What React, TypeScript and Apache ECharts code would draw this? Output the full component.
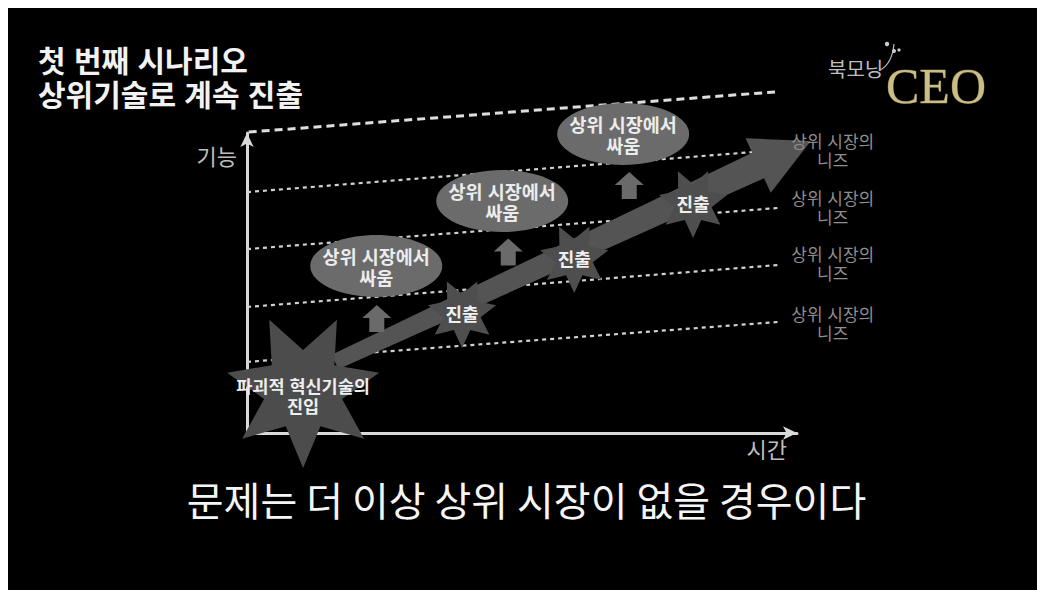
import React, { useEffect, useRef } from 'react';
import * as echarts from 'echarts';

const FONT = '"Noto Sans CJK KR", "Noto Sans", sans-serif';
// compact line box (Latin primary font), Hangul glyphs fall back to Noto Sans CJK KR
const FONT_TIGHT = '"Liberation Sans", "Noto Sans CJK KR", sans-serif';

// ---- texts ----
const titleLine1 = '첫 번째 시나리오';
const titleLine2 = '상위기술로 계속 진출';
const captionText = '문제는 더 이상 상위 시장이 없을 경우이다';
const xAxisName = '시간';
const yAxisName = '기능';
const logoKorean = '북모닝';
const logoLatin = 'CEO';

// ---- diagram values, in (시간, 기능) units: x 0..100, y 0..100 ----
// dashed "market level" lines: [x1, y1, x2, y2]
const levelLines = [
  [0.3, 100.3, 96, 113.7],
  [0, 80.3, 96.4, 94.3],
  [0, 61.3, 96.5, 75],
  [0, 42, 96.5, 56],
  [0, 23.7, 96.5, 37],
];
const needLine1 = '상위 시장의';
const needLine2 = '니즈';
const needPoints = [
  [106.5, 93.6],
  [106.5, 74.6],
  [106.5, 55.9],
  [106.5, 36.0],
];
const battleLabel = '상위 시장에서\n싸움';
const battlePoints = [
  [23.5, 55.7],
  [46.4, 77.3],
  [68.4, 99.7],
];
const upArrowPoints = [
  [23.6, 38.2],
  [47.5, 60.3],
  [69.5, 82.5],
];
const entryLabel = '진출';
const entryPoints = [
  [39.1, 40.0],
  [59.5, 58.3],
  [81.1, 76.7],
];
const originLabel = '파괴적 혁신기술의\n진입';
const originPoints = [[10.2, 14.3]];
const trendArrow = [[16, 23.7, 102.5, 97.3]];

function starPoints(cx: number, cy: number, R: number, r: number, n: number) {
  const pts: number[][] = [];
  const rot = Math.PI / 2;
  for (let i = 0; i < 2 * n; i++) {
    const a = rot + (i * Math.PI) / n;
    const rad = i % 2 === 0 ? R : r;
    pts.push([cx + rad * Math.cos(a), cy + rad * Math.sin(a)]);
  }
  return pts;
}

export default function App() {
  const ref = useRef<HTMLDivElement>(null);

  useEffect(() => {
    if (!ref.current) return;
    const chart = echarts.init(ref.current, undefined, { renderer: 'svg' });

    const lineSeries = levelLines.map((l, i) => ({
      type: 'line',
      data: [
        [l[0], l[1]],
        [l[2], l[3]],
      ],
      symbol: 'none',
      clip: false,
      silent: true,
      z: 1,
      lineStyle:
        i === 0
          ? { color: '#dedede', width: 3, type: [8, 5] }
          : { color: '#d2d2d2', width: 2.2, type: [4, 4] },
    }));

    const titleStyle = {
      fill: '#f2f2f2',
      fontSize: 30,
      fontWeight: 'bold',
      fontFamily: FONT_TIGHT,
      verticalAlign: 'middle',
    };

    const option: any = {
      animation: false,
      backgroundColor: '#000',
      grid: { left: 239, top: 125, right: 248, bottom: 157 },
      xAxis: {
        type: 'value',
        min: 0,
        max: 100,
        name: xAxisName,
        nameLocation: 'end',
        nameGap: -10,
        nameTextStyle: {
          color: '#bdbdbd',
          fontSize: 22,
          fontFamily: FONT,
          align: 'right',
          verticalAlign: 'top',
          padding: [4, 0, 0, 0],
        },
        axisLine: {
          show: true,
          symbol: ['none', 'arrow'],
          symbolSize: [10, 14],
          lineStyle: { color: '#d9d9d9', width: 3 },
        },
        axisTick: { show: false },
        axisLabel: { show: false },
        splitLine: { show: false },
      },
      yAxis: {
        type: 'value',
        min: 0,
        max: 100,
        name: yAxisName,
        nameLocation: 'end',
        nameGap: -22,
        nameTextStyle: {
          color: '#bdbdbd',
          fontSize: 22,
          fontFamily: FONT,
          align: 'right',
          verticalAlign: 'middle',
          padding: [0, 10, 0, 0],
        },
        axisLine: {
          show: true,
          symbol: ['none', 'arrow'],
          symbolSize: [10, 14],
          lineStyle: { color: '#d9d9d9', width: 3 },
        },
        axisTick: { show: false },
        axisLabel: { show: false },
        splitLine: { show: false },
      },
      series: [
        ...lineSeries,
        {
          type: 'custom',
          z: 2,
          silent: true,
          clip: false,
          data: trendArrow,
          renderItem: (_p: any, api: any) => {
            const s = api.coord([api.value(0), api.value(1)]);
            const t = api.coord([api.value(2), api.value(3)]);
            const dx = t[0] - s[0];
            const dy = t[1] - s[1];
            const len = Math.sqrt(dx * dx + dy * dy);
            const u = [dx / len, dy / len];
            const p = [-u[1], u[0]];
            const headLen = 58;
            const w0 = 8;
            const w1 = 14;
            const hw = 30;
            const b = [t[0] - headLen * u[0], t[1] - headLen * u[1]];
            const pts = [
              [s[0] + w0 * p[0], s[1] + w0 * p[1]],
              [b[0] + w1 * p[0], b[1] + w1 * p[1]],
              [b[0] + hw * p[0], b[1] + hw * p[1]],
              t,
              [b[0] - hw * p[0], b[1] - hw * p[1]],
              [b[0] - w1 * p[0], b[1] - w1 * p[1]],
              [s[0] - w0 * p[0], s[1] - w0 * p[1]],
            ];
            return { type: 'polygon', shape: { points: pts }, style: { fill: '#545454' } };
          },
        },
        {
          type: 'custom',
          z: 3,
          silent: true,
          clip: false,
          data: originPoints,
          renderItem: (_p: any, api: any) => {
            const c = api.coord([api.value(0), api.value(1)]);
            return {
              type: 'group',
              children: [
                { type: 'polygon', shape: { points: starPoints(c[0], c[1], 78, 40, 7) }, style: { fill: '#4c4c4c' } },
                {
                  type: 'text',
                  style: {
                    text: originLabel,
                    x: c[0],
                    y: c[1] + 7,
                    align: 'center',
                    verticalAlign: 'middle',
                    fill: '#eeeeee',
                    fontSize: 17.5,
                    lineHeight: 20,
                    fontWeight: 'bold',
                    fontFamily: FONT_TIGHT,
                  },
                },
              ],
            };
          },
        },
        {
          type: 'custom',
          z: 3,
          silent: true,
          clip: false,
          data: entryPoints,
          renderItem: (_p: any, api: any) => {
            const c = api.coord([api.value(0), api.value(1)]);
            return {
              type: 'group',
              children: [
                { type: 'polygon', shape: { points: starPoints(c[0], c[1], 35, 19, 7) }, style: { fill: '#4e4e4e' } },
                {
                  type: 'text',
                  style: {
                    text: entryLabel,
                    x: c[0],
                    y: c[1],
                    align: 'center',
                    verticalAlign: 'middle',
                    fill: '#f0f0f0',
                    fontSize: 18,
                    fontWeight: 'bold',
                    fontFamily: FONT,
                  },
                },
              ],
            };
          },
        },
        {
          type: 'custom',
          z: 3,
          silent: true,
          clip: false,
          data: battlePoints,
          renderItem: (_p: any, api: any) => {
            const c = api.coord([api.value(0), api.value(1)]);
            return {
              type: 'group',
              children: [
                { type: 'ellipse', shape: { cx: c[0], cy: c[1], rx: 66, ry: 31 }, style: { fill: '#6b6b6b' } },
                {
                  type: 'text',
                  style: {
                    text: battleLabel,
                    x: c[0],
                    y: c[1] + 2,
                    align: 'center',
                    verticalAlign: 'middle',
                    fill: '#ececec',
                    fontSize: 18.5,
                    lineHeight: 21,
                    fontWeight: 'bold',
                    fontFamily: FONT_TIGHT,
                  },
                },
              ],
            };
          },
        },
        {
          type: 'custom',
          z: 3,
          silent: true,
          clip: false,
          data: upArrowPoints,
          renderItem: (_p: any, api: any) => {
            const c = api.coord([api.value(0), api.value(1)]);
            const x = c[0];
            const y = c[1];
            const pts = [
              [x, y - 13.5],
              [x + 14.5, y - 0.5],
              [x + 7.5, y - 0.5],
              [x + 7.5, y + 13.5],
              [x - 7.5, y + 13.5],
              [x - 7.5, y - 0.5],
              [x - 14.5, y - 0.5],
            ];
            return { type: 'polygon', shape: { points: pts }, style: { fill: '#6a6a6a' } };
          },
        },
        {
          type: 'custom',
          z: 3,
          silent: true,
          clip: false,
          data: needPoints,
          renderItem: (_p: any, api: any) => {
            const c = api.coord([api.value(0), api.value(1)]);
            const st = {
              align: 'center',
              verticalAlign: 'middle',
              fill: '#8e8e8e',
              fontSize: 17,
              fontFamily: FONT_TIGHT,
            };
            return {
              type: 'group',
              children: [
                { type: 'text', style: { ...st, text: needLine1, x: c[0], y: c[1] - 9.5 } },
                { type: 'text', style: { ...st, text: needLine2, x: c[0], y: c[1] + 9.5 } },
              ],
            };
          },
        },
      ],
      graphic: [
        { type: 'text', x: 30, y: 53, style: { ...titleStyle, text: titleLine1 } },
        { type: 'text', x: 30, y: 87, style: { ...titleStyle, text: titleLine2 } },
        {
          type: 'text',
          left: 'center',
          top: 471,
          style: {
            text: captionText,
            fill: '#f5f5f5',
            fontSize: 40,
            fontFamily: FONT,
          },
        },
        {
          type: 'text',
          x: 820,
          y: 60,
          style: {
            text: logoKorean,
            fill: '#bfbfbf',
            fontSize: 20,
            fontFamily: FONT,
            verticalAlign: 'middle',
          },
        },
        {
          type: 'text',
          x: 878,
          y: 53,
          style: {
            text: logoLatin,
            fontSize: 50,
            fontFamily: '"Liberation Serif", "DejaVu Serif", serif',
            verticalAlign: 'top',
            fill: '#cbbd86',
            stroke: '#5e5530',
            lineWidth: 0.8,
          },
        },
        {
          type: 'bezierCurve',
          shape: { x1: 872, y1: 62, x2: 886, y2: 36, cpx1: 884, cpy1: 56 },
          style: { stroke: '#bbbbbb', lineWidth: 1.2, fill: 'none' },
        },
        { type: 'circle', shape: { cx: 879, cy: 36, r: 2.2 }, style: { fill: '#cccccc' } },
        { type: 'circle', shape: { cx: 886, cy: 43, r: 2 }, style: { fill: '#cccccc' } },
        { type: 'circle', shape: { cx: 891, cy: 42, r: 1.6 }, style: { fill: '#cccccc' } },
      ],
    };

    chart.setOption(option);
    return () => chart.dispose();
  }, []);

  return <div ref={ref} style={{ width: 1037, height: 582, background: '#000' }} />;
}
